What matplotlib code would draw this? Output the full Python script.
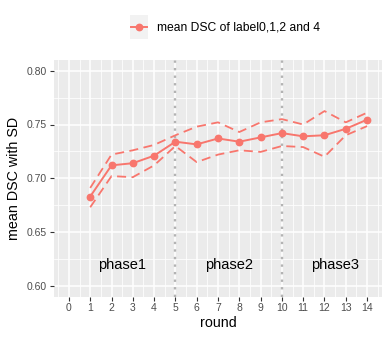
import matplotlib
matplotlib.use("Agg")
import matplotlib.pyplot as plt
from matplotlib.lines import Line2D
from matplotlib.patches import Rectangle

rounds = [1, 2, 3, 4, 5, 6, 7, 8, 9, 10, 11, 12, 13, 14]
mean_dsc = [0.683, 0.712, 0.714, 0.721, 0.734, 0.7315, 0.737, 0.734, 0.738, 0.742, 0.739, 0.740, 0.746, 0.7545]
upper = [0.691, 0.722, 0.726, 0.731, 0.740, 0.748, 0.752, 0.743, 0.752, 0.755, 0.750, 0.7625, 0.752, 0.761]
lower = [0.673, 0.702, 0.701, 0.712, 0.730, 0.715, 0.722, 0.726, 0.7245, 0.730, 0.729, 0.720, 0.740, 0.7485]
phase_labels = ["phase1", "phase2", "phase3"]
phase_x = [2.5, 7.5, 12.5]
phase_y = 0.619
phase_bounds = [5, 10]
x_ticks = list(range(0, 15))
y_ticks = [0.60, 0.65, 0.70, 0.75, 0.80]

plt.rcParams['font.family'] = ['Liberation Sans', 'DejaVu Sans']
col = '#F8766D'
W, H = 389, 340
fig = plt.figure(figsize=(W/100, H/100), dpi=100)
L, R, T, B = 54, 382, 60, 296.5
ax = fig.add_axes([L/W, 1-B/H, (R-L)/W, (B-T)/H])
ax.set_facecolor('#EBEBEB')
for s in ax.spines.values():
    s.set_visible(False)

ax.set_xlim(-0.7, 14.7)
ax.set_ylim(0.59, 0.81)
ax.set_xticks(x_ticks)
ax.set_yticks(y_ticks)
ax.set_yticklabels([f"{v:.2f}" for v in y_ticks])
ax.set_xticks([x + 0.5 for x in x_ticks[:-1]] + [-0.5, 14.5], minor=True)
ax.set_yticks([0.625, 0.675, 0.725, 0.775], minor=True)
ax.grid(which='major', color='white', linewidth=1.1)
ax.grid(which='minor', color='white', linewidth=0.55)
ax.set_axisbelow(True)
ax.tick_params(which='major', length=3, width=0.8, color='#333333',
               labelsize=7.5, labelcolor='#4D4D4D', pad=2)
ax.tick_params(which='minor', length=0)

for xb in phase_bounds:
    ax.axvline(xb, color='#B3B3B3', linestyle=(0, (1, 2.2)), linewidth=1.7, zorder=1.5)

ax.plot(rounds, upper, color=col, linestyle=(0, (5, 3)), linewidth=1.3, zorder=3)
ax.plot(rounds, lower, color=col, linestyle=(0, (5, 3)), linewidth=1.3, zorder=3)
ax.plot(rounds, mean_dsc, color=col, linewidth=1.4, marker='o', markersize=4.6, zorder=4)

for lab, px in zip(phase_labels, phase_x):
    ax.text(px, phase_y, lab, ha='center', va='center', fontsize=10.5, color='black')

ax.set_xlabel("round", fontsize=10.3, labelpad=2)
ax.set_ylabel("mean DSC with SD", fontsize=10.3, labelpad=4)

# legend
fig.patches.append(Rectangle((130/W, 1-39/H), 18/W, 24/H, transform=fig.transFigure,
                             facecolor='#F2F2F2', edgecolor='none'))
fig.lines.append(Line2D([131/W, 147/W], [1-27/H, 1-27/H], transform=fig.transFigure,
                        color=col, linewidth=1.4, marker=None))
fig.lines.append(Line2D([139/W], [1-27/H], transform=fig.transFigure,
                        color=col, marker='o', markersize=4.6, linestyle='none'))
fig.text(157/W, 1-27/H, "mean DSC of label0,1,2 and 4", fontsize=8.7,
         ha='left', va='center', color='black')

fig.savefig("out.png", dpi=100, facecolor='white')
